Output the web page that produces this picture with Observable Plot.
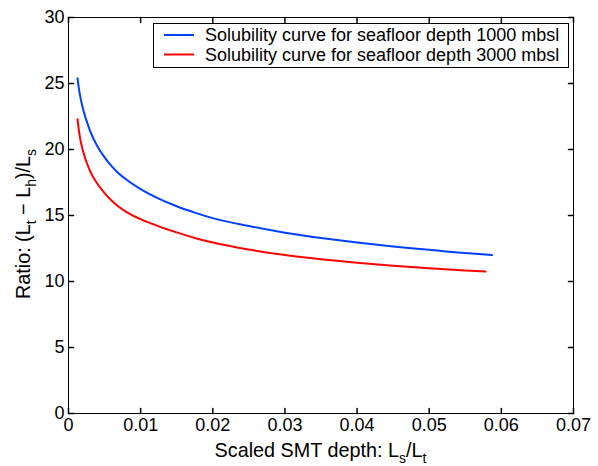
<!DOCTYPE html>
<html><head><meta charset="utf-8">
<script src="https://cdn.jsdelivr.net/npm/d3@7"></script>
<script src="https://cdn.jsdelivr.net/npm/@observablehq/plot@0.6"></script>
<style>body{margin:0;background:#fff}</style>
</head><body><div id="chart"></div>
<script>
const seriesNames = ["Solubility curve for seafloor depth 1000 mbsl", "Solubility curve for seafloor depth 3000 mbsl"];
const seriesColors = ["#0040ff", "#ff0000"];

const x1000 = [0.00125, 0.0015, 0.002, 0.003, 0.004, 0.005, 0.006, 0.007, 0.008, 0.010, 0.0125, 0.015, 0.0175, 0.020, 0.025, 0.030, 0.035, 0.040, 0.045, 0.050, 0.055, 0.0587];
const y1000 = [25.4, 24.4, 23.1, 21.4, 20.25, 19.4, 18.72, 18.17, 17.73, 17.0, 16.28, 15.7, 15.22, 14.8, 14.2, 13.7, 13.3, 12.95, 12.65, 12.4, 12.15, 12.0];

const x3000 = [0.00125, 0.0015, 0.002, 0.003, 0.004, 0.005, 0.006, 0.007, 0.008, 0.010, 0.0125, 0.015, 0.0175, 0.020, 0.025, 0.030, 0.035, 0.040, 0.045, 0.050, 0.055, 0.0578];
const y3000 = [22.3, 21.2, 19.9, 18.35, 17.4, 16.7, 16.12, 15.65, 15.28, 14.72, 14.18, 13.72, 13.3, 12.95, 12.42, 12.0, 11.68, 11.42, 11.2, 11.0, 10.84, 10.75];

const xTicks = [0, 0.01, 0.02, 0.03, 0.04, 0.05, 0.06, 0.07];
const yTicks = [0, 5, 10, 15, 20, 25, 30];
const xTickLabels = ["0", "0.01", "0.02", "0.03", "0.04", "0.05", "0.06", "0.07"];
const yTickLabels = ["0", "5", "10", "15", "20", "25", "30"];

const rows = [
  ...x1000.map((x, i) => ({x, y: y1000[i], s: seriesNames[0]})),
  ...x3000.map((x, i) => ({x, y: y3000[i], s: seriesNames[1]}))
];

const tickLine = {draw(ctx, l) { ctx.moveTo(0, 0); ctx.lineTo(0, -l); }};
const font = "'Liberation Sans', Arial, Helvetica, sans-serif";

const plot = Plot.plot({
  width: 598, height: 466,
  marginLeft: 68, marginRight: 25, marginTop: 17, marginBottom: 53,
  style: {fontFamily: font, fontSize: "18px", background: "#fff", color: "#000"},
  x: {domain: [0, 0.07]},
  y: {domain: [0, 30]},
  color: {domain: seriesNames, range: seriesColors},
  marks: [
    Plot.line(rows, {x: "x", y: "y", z: "s", stroke: "s", strokeWidth: 2, curve: "monotone-x"}),
    Plot.frame({stroke: "#000", strokeWidth: 1}),
    Plot.axisX(xTicks, {anchor: "bottom", tickSize: 0, tickPadding: 5, tickFormat: d => xTickLabels[xTicks.indexOf(d)], label: null, fontSize: 18}),
    Plot.axisY(yTicks, {anchor: "left", tickSize: 0, tickPadding: 4, tickFormat: d => yTickLabels[yTicks.indexOf(d)], label: null, fontSize: 18}),
    Plot.vector(xTicks, {x: d => d, frameAnchor: "bottom", length: 5, anchor: "start", shape: tickLine, stroke: "#000"}),
    Plot.vector(xTicks, {x: d => d, frameAnchor: "top", length: 5, rotate: 180, anchor: "start", shape: tickLine, stroke: "#000"}),
    Plot.vector(yTicks, {y: d => d, frameAnchor: "left", length: 5, rotate: 90, anchor: "start", shape: tickLine, stroke: "#000"}),
    Plot.vector(yTicks, {y: d => d, frameAnchor: "right", length: 5, rotate: -90, anchor: "start", shape: tickLine, stroke: "#000"})
  ]
});

const svg = d3.select(plot);

// x-axis title with subscripts
const xl = svg.append("text").attr("x", 320.5).attr("y", 457).attr("text-anchor", "middle")
  .attr("fill", "#000").style("font-size", "19.8px").style("font-family", font);
xl.append("tspan").text("Scaled SMT depth: L");
xl.append("tspan").attr("dy", 6).style("font-size", "14px").text("s");
xl.append("tspan").attr("dy", -6).text("/L");
xl.append("tspan").attr("dy", 6).style("font-size", "14px").text("t");

// y-axis title with subscripts
const yl = svg.append("text").attr("transform", "translate(30,224) rotate(-90)").attr("text-anchor", "middle")
  .attr("fill", "#000").style("font-size", "19.8px").style("font-family", font);
yl.append("tspan").text("Ratio: (L");
yl.append("tspan").attr("dy", 6).style("font-size", "14px").text("t");
yl.append("tspan").attr("dy", -6).text(" \u2212 L");
yl.append("tspan").attr("dy", 6).style("font-size", "14px").text("h");
yl.append("tspan").attr("dy", -6).text(")/L");
yl.append("tspan").attr("dy", 6).style("font-size", "14px").text("s");

// legend box
const lg = svg.append("g");
lg.append("rect").attr("x", 153.5).attr("y", 23.5).attr("width", 415).attr("height", 44)
  .attr("fill", "#fff").attr("stroke", "#000").attr("stroke-width", 1);
seriesNames.forEach((name, i) => {
  const yy = 35 + i * 19.5;
  lg.append("line").attr("x1", 164).attr("x2", 194).attr("y1", yy).attr("y2", yy)
    .attr("stroke", seriesColors[i]).attr("stroke-width", 2);
  lg.append("text").attr("x", 205).attr("y", yy + 6.4).attr("fill", "#000").attr("text-anchor", "start")
    .style("font-size", "18px").style("font-family", font).text(name);
});

document.getElementById("chart").appendChild(plot);
</script>
</body></html>
